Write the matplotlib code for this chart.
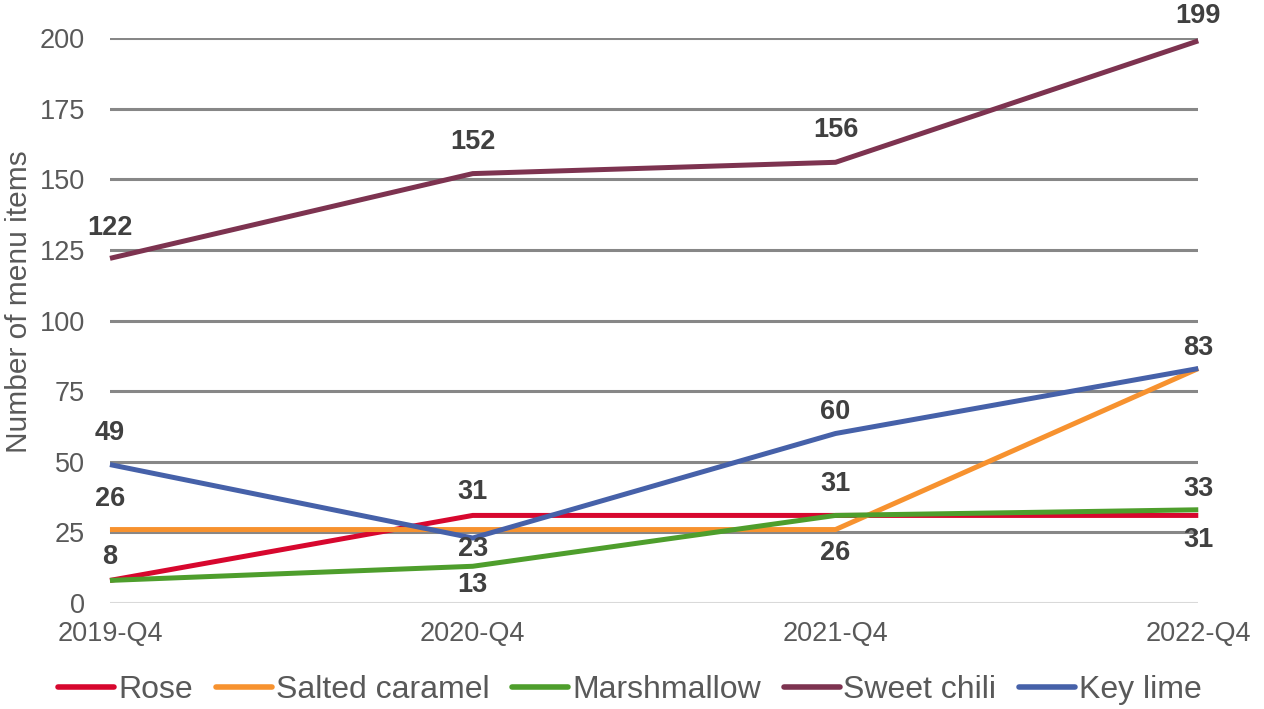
import numpy as np
import matplotlib.pyplot as plt

plt.rcParams['font.family'] = ['Liberation Sans', 'DejaVu Sans']

quarters = ['2019-Q4', '2020-Q4', '2021-Q4', '2022-Q4']
series_names = ['Rose', 'Salted caramel', 'Marshmallow', 'Sweet chili', 'Key lime']
rose = [8, 31, 31, 31]
salted_caramel = [26, 26, 26, 83]
marshmallow = [8, 13, 31, 33]
sweet_chili = [122, 152, 156, 199]
key_lime = [49, 23, 60, 83]
colors = ['#D7072E', '#F7922F', '#4E9E2C', '#7D3350', '#4661A9']

# vertical offset (pixels, + is up) of each value label, None = not shown
label_dy = {
    'Rose': [23, 23, 31, -25],
    'Salted caramel': [31, None, -23, None],
    'Marshmallow': [None, -19, None, 21],
    'Sweet chili': [30, 32, 32, 25],
    'Key lime': [32, -11, 22, 21],
}

values = [rose, salted_caramel, marshmallow, sweet_chili, key_lime]

fig = plt.figure(figsize=(12.64, 7.09), dpi=100)
ax = fig.add_axes([0.087, 0.1495, 0.861, 0.7969])

x = np.arange(len(quarters))
for name, vals, c in zip(series_names, values, colors):
    ax.plot(x, vals, color=c, lw=3.6, label=name, clip_on=False, zorder=3,
            solid_capstyle='butt')
    for xi, v, dy in zip(x, vals, label_dy[name]):
        if dy is None:
            continue
        ax.annotate(str(v), (xi, v), xytext=(0, dy * 0.72), textcoords='offset points',
                    ha='center', va='center', fontsize=19.5, fontweight='bold',
                    color='#404040', annotation_clip=False)

ax.set_xlim(0, 3)
ax.set_ylim(0, 200)
ax.set_yticks(range(0, 201, 25))
ax.set_xticks(x)
ax.set_xticklabels(quarters)
for t in range(25, 201, 25):
    ax.axhline(t, color='#878787', lw=2.2, zorder=1)
ax.axhline(0, color='#D9D9D9', lw=2.2, zorder=1)
for s in ax.spines.values():
    s.set_visible(False)
ax.tick_params(length=0, labelsize=19.5, colors='#595959')
ax.tick_params(axis='x', pad=13)
ax.tick_params(axis='y', pad=18)
ax.set_ylabel('Number of menu items', fontsize=21.5, color='#595959')
ax.yaxis.set_label_coords(-0.0705, 0.533)

leg = ax.legend(loc='center', bbox_to_anchor=(0.478, -0.154), ncol=5, frameon=False,
                fontsize=23, labelcolor='#595959', handlelength=1.75,
                handletextpad=0.12, columnspacing=0.72)
for h in leg.get_lines():
    h.set_linewidth(4.0)
    h.set_solid_capstyle('round')

fig.savefig('out.png', dpi=100)
